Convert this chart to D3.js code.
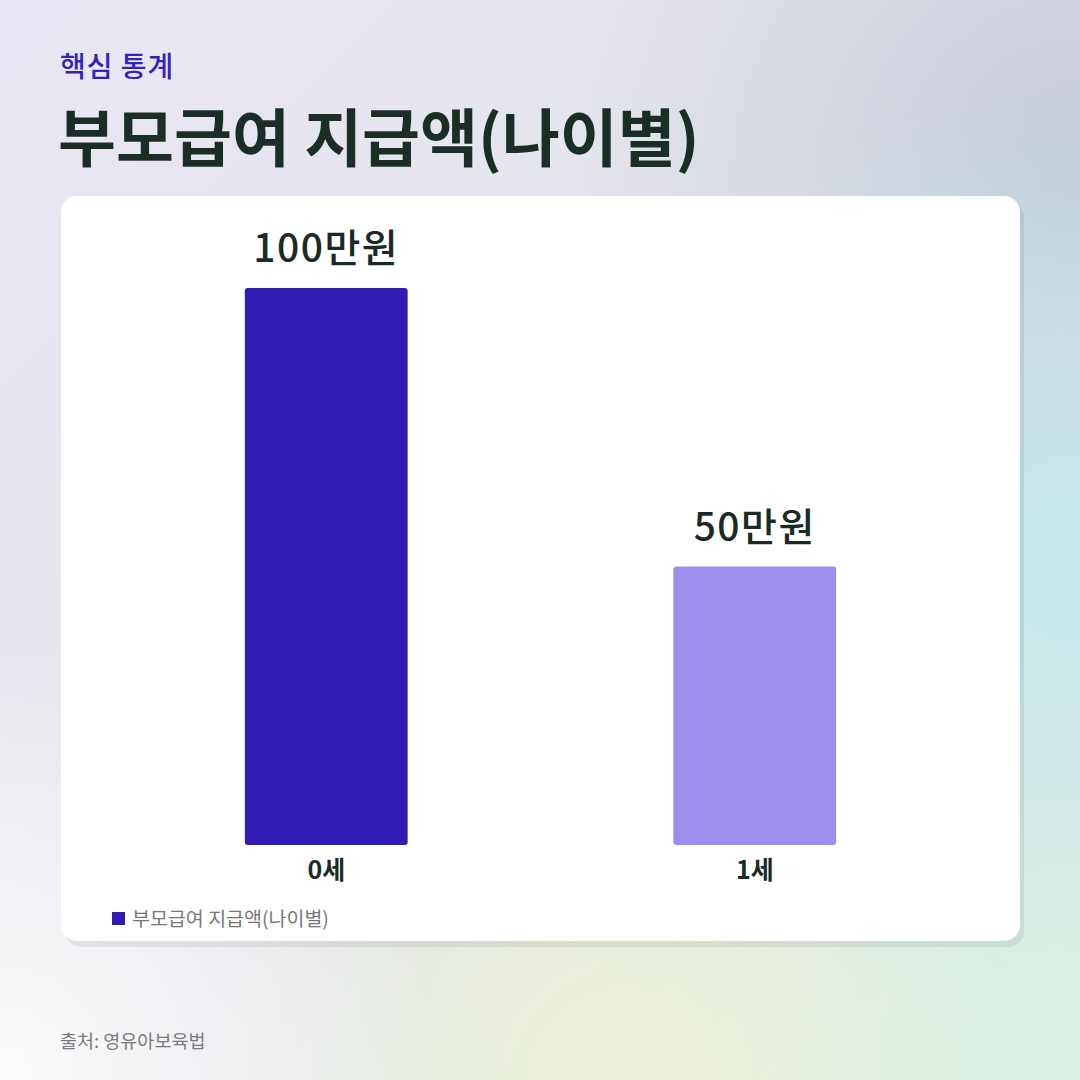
<!DOCTYPE html>
<html>
<head>
<meta charset="utf-8">
<script src="https://cdn.jsdelivr.net/npm/d3@7"></script>
<style>
  body { margin: 0; background: #fff; }
  svg { display: block; }
</style>
</head>
<body>
<script>
// data
const ages = ["0세", "1세"];
const amounts = [100, 50];
const amountLabels = ["100만원", "50만원"];
const barColors = ["#321db4", "#9c8eec"];
const seriesName = "부모급여 지급액(나이별)";

const W = 1080, H = 1080;
const font = "'Noto Sans CJK KR', 'Noto Sans', sans-serif";

const svg = d3.select("body")
  .append("svg")
    .attr("width", W)
    .attr("height", H);

const defs = svg.append("defs");

// background gradients
const base = defs.append("linearGradient")
    .attr("id", "bgBase")
    .attr("x1", 0).attr("y1", 0).attr("x2", 1).attr("y2", 1);
base.append("stop").attr("offset", "0%").attr("stop-color", "#e9e7f3");
base.append("stop").attr("offset", "55%").attr("stop-color", "#e3e4ea");
base.append("stop").attr("offset", "100%").attr("stop-color", "#dcefe4");

function radial(id, cx, cy, r, color, op) {
  const g = defs.append("radialGradient")
      .attr("id", id)
      .attr("gradientUnits", "userSpaceOnUse")
      .attr("cx", cx).attr("cy", cy).attr("r", r);
  g.append("stop").attr("offset", "0%").attr("stop-color", color).attr("stop-opacity", op);
  g.append("stop").attr("offset", "100%").attr("stop-color", color).attr("stop-opacity", 0);
}
radial("glowTR", 1080, 180, 520, "#c2c8d4", 0.9);
radial("glowR", 1080, 560, 480, "#c2e9ea", 0.95);
radial("glowB", 620, 1080, 420, "#eef2d8", 0.9);
radial("glowBL", 0, 1080, 440, "#fcfcfd", 1);
radial("glowBR", 1080, 1080, 300, "#dcf0e2", 0.8);

svg.append("rect").attr("width", W).attr("height", H).attr("fill", "url(#bgBase)");
["glowTR", "glowR", "glowB", "glowBL", "glowBR"].forEach(id => {
  svg.append("rect").attr("width", W).attr("height", H).attr("fill", `url(#${id})`);
});

// header
svg.append("text")
    .attr("x", 60).attr("y", 77)
    .attr("font-family", font)
    .attr("font-size", 28)
    .attr("font-weight", 500)
    .attr("letter-spacing", 1)
    .attr("fill", "#3322bb")
    .text("핵심 통계");

svg.append("text")
    .attr("x", 58).attr("y", 161)
    .attr("font-family", font)
    .attr("font-size", 63)
    .attr("font-weight", 700)
    .attr("fill", "#1a2e26")
    .text("부모급여 지급액(나이별)");

// card
const card = { x: 61, y: 196, w: 959, h: 745 };
svg.append("rect")
    .attr("x", card.x + 4).attr("y", card.y + 6)
    .attr("width", card.w).attr("height", card.h)
    .attr("rx", 16)
    .attr("fill", "#000").attr("opacity", 0.07);
svg.append("rect")
    .attr("x", card.x).attr("y", card.y)
    .attr("width", card.w).attr("height", card.h)
    .attr("rx", 16)
    .attr("fill", "#ffffff");

// scales
const x = d3.scaleBand()
    .domain(ages)
    .range([112, 969])
    .paddingInner(0.62)
    .paddingOuter(0.31);

const y = d3.scaleLinear()
    .domain([0, 100])
    .range([845, 288]);

const bars = svg.append("g").attr("id", "bars");

bars.selectAll("rect")
  .data(ages)
  .join("rect")
    .attr("x", d => x(d))
    .attr("y", (d, i) => y(amounts[i]))
    .attr("width", x.bandwidth())
    .attr("height", (d, i) => y(0) - y(amounts[i]))
    .attr("rx", 3)
    .attr("fill", (d, i) => barColors[i]);

bars.selectAll("text.value")
  .data(ages)
  .join("text")
    .attr("class", "value")
    .attr("x", d => x(d) + x.bandwidth() / 2)
    .attr("y", (d, i) => y(amounts[i]) - 26)
    .attr("text-anchor", "middle")
    .attr("font-family", font)
    .attr("font-size", 39)
    .attr("font-weight", 500)
    .attr("letter-spacing", 1.5)
    .attr("fill", "#1a2a25")
    .text((d, i) => amountLabels[i]);

// x axis labels
const xAxis = svg.append("g")
    .attr("transform", `translate(0, ${y(0)})`)
    .call(d3.axisBottom(x).tickSize(0).tickPadding(10));
xAxis.select(".domain").remove();
xAxis.selectAll("text")
    .attr("font-family", font)
    .attr("font-size", 25)
    .attr("font-weight", 700)
    .attr("fill", "#1a2a25")
    .attr("dy", "0.95em");

// legend
const legend = svg.append("g").attr("transform", "translate(112, 912)");
legend.append("rect")
    .attr("width", 13).attr("height", 13)
    .attr("fill", barColors[0]);
legend.append("text")
    .attr("x", 20).attr("y", 14)
    .attr("font-family", font)
    .attr("font-size", 19.5)
    .attr("fill", "#777777")
    .text(seriesName);

// source
svg.append("text")
    .attr("x", 60).attr("y", 1048)
    .attr("font-family", font)
    .attr("font-size", 18.5)
    .attr("fill", "#7a7a7a")
    .text("출처: 영유아보육법");
</script>
</body>
</html>
